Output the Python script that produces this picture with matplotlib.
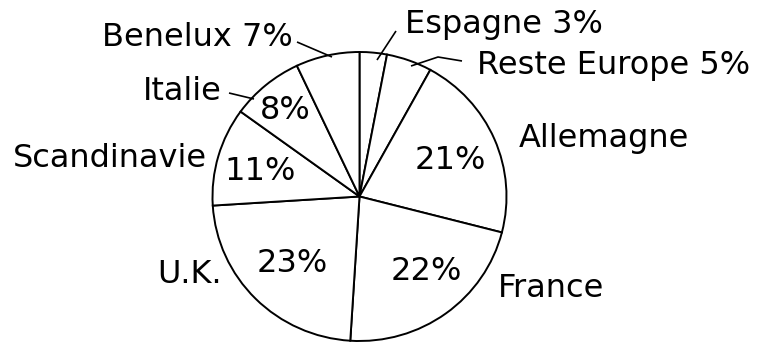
import matplotlib
matplotlib.use("Agg")
import matplotlib.pyplot as plt
from matplotlib import transforms

# ---- data ----
regions = ["Espagne", "Reste Europe", "Allemagne", "France", "U.K.",
           "Scandinavie", "Italie", "Benelux"]
shares = [3, 5, 21, 22, 23, 11, 8, 7]

W, H = 769, 342
fig = plt.figure(figsize=(W / 100, H / 100), dpi=100)
fig.patch.set_facecolor("white")
ax = fig.add_axes([0, 0, 1, 1])

# geometry (pixels, y from top)
cx, cy = 359.5, 196.5
rx, ry = 147.0, 144.5
k = rx / ry

ax.pie(shares, startangle=90, counterclock=False,
       center=(cx, (H - cy) * k), radius=rx,
       wedgeprops=dict(facecolor="white", edgecolor="black", linewidth=1.4),
       normalize=True)
ax.set_aspect("auto")
ax.set_xlim(0, W)
ax.set_ylim(0, H * k)
ax.axis("off")

# pixel transform (y from top)
pix = transforms.Affine2D().scale(1 / W, -1 / H).translate(0, 1) + fig.transFigure

font = dict(family="DejaVu Sans", fontsize=23, color="black", transform=pix)
share = dict(zip(regions, shares))

# outside labels: (text, x, baseline, ha)
outside = [
    (f"Espagne {share['Espagne']}%", 405, 33, "left"),
    (f"Reste Europe {share['Reste Europe']}%", 477, 74, "left"),
    ("Allemagne", 519, 147, "left"),
    ("France", 498, 297, "left"),
    ("U.K.", 222, 283, "right"),
    ("Scandinavie", 207, 167, "right"),
    ("Italie", 222, 100, "right"),
    (f"Benelux {share['Benelux']}%", 293, 46, "right"),
]
for txt, x, y, ha in outside:
    ax.text(x, y, txt, ha=ha, va="baseline", **font)

# inside percentage labels: (region, center x, baseline)
inside = [
    ("Allemagne", 450, 169),
    ("France", 426, 280),
    ("U.K.", 292, 272),
    ("Scandinavie", 260, 180),
    ("Italie", 285, 119),
]
for name, x, y in inside:
    ax.text(x, y, f"{share[name]}%", ha="center", va="baseline", **font)

# leader lines
leaders = [
    ([297, 332], [42, 57]),
    ([396, 377], [31, 60]),
    ([462, 438, 411], [61, 57, 66]),
    ([229, 254], [93, 99]),
]
for xs, ys in leaders:
    ax.plot(xs, ys, color="black", linewidth=1.2, transform=pix,
            solid_capstyle="butt")

fig.savefig("out.png", dpi=100, facecolor="white")
